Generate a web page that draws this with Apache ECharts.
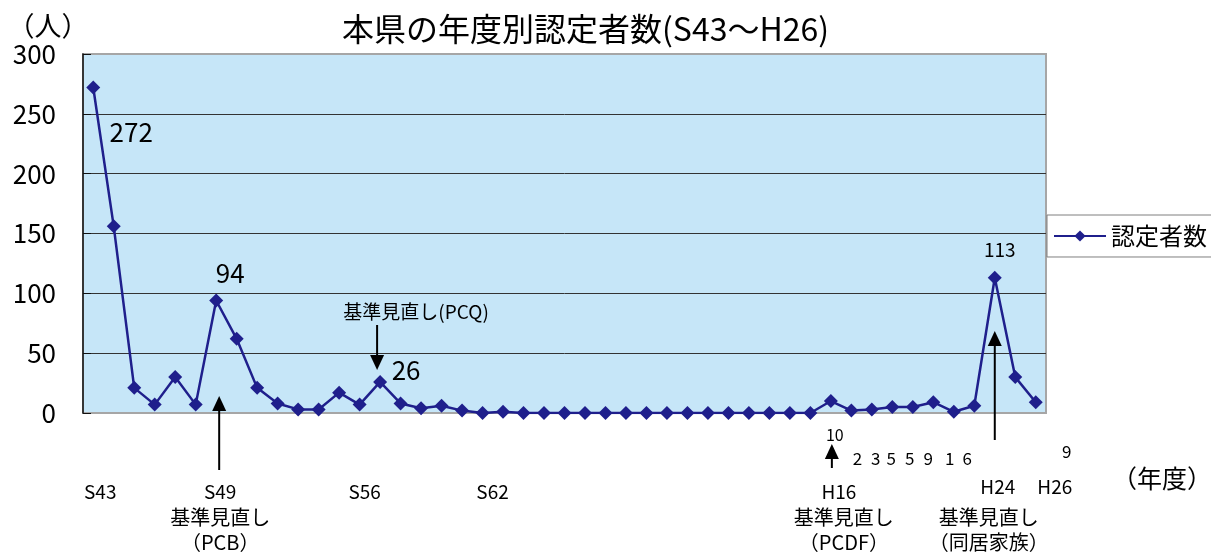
<!DOCTYPE html>
<html>
<head>
<meta charset="utf-8">
<script src="https://cdn.jsdelivr.net/npm/echarts@6/dist/echarts.min.js"></script>
<style>
  html, body { margin: 0; padding: 0; background: #fff; }
  #chart { width: 1211px; height: 554px; }
</style>
</head>
<body>
<div id="chart"></div>
<script>
const years = [
  'S43', 'S44', 'S45', 'S46', 'S47', 'S48', 'S49', 'S50', 'S51', 'S52', 'S53',
  'S54', 'S55', 'S56', 'S57', 'S58', 'S59', 'S60', 'S61', 'S62', 'S63',
  'H1', 'H2', 'H3', 'H4', 'H5', 'H6', 'H7', 'H8', 'H9', 'H10', 'H11', 'H12', 'H13',
  'H14', 'H15', 'H16', 'H17', 'H18', 'H19', 'H20', 'H21', 'H22', 'H23', 'H24', 'H25', 'H26',
]
const counts = [
  272, 156, 21, 7, 30, 7, 94, 62, 21, 8, 3,
  3, 17, 7, 26, 8, 4, 6, 2, 0, 1,
  0, 0, 0, 0, 0, 0, 0, 0, 0, 0, 0, 0, 0,
  0, 0, 10, 2, 3, 5, 5, 9, 1, 6, 113, 30, 9,
]
const tickLabels = ['S43', 'S49', 'S56', 'S62', 'H16', 'H24', 'H26']
const yTicks = [0, 50, 100, 150, 200, 250, 300]

const FONT = '"Noto Sans CJK JP", "Noto Sans", sans-serif'
const NAVY = '#1f1f8c'

// label tweaks: where excel had the labels dragged around
const tickShift = { S43: 7, S49: 4, S56: 5, S62: 10, H16: 8, H24: 3, H26: 19 }
const tickRaise = { H24: 5, H26: 5 }
const labelTweaks = {
  0: { dx: 38, dy: 45, size: 26 },
  6: { dx: 14, dy: -27, size: 26 },
  14: { dx: 26, dy: -12, size: 26 },
  44: { dx: 5, dy: -28, size: 19 },
  36: { dx: 4, below: 22, size: 16 },
  37: { dx: 6, below: 46, size: 17 },
  38: { dx: 4, below: 46, size: 17 },
  39: { dx: -1, below: 46, size: 17 },
  40: { dx: -3, below: 46, size: 17 },
  41: { dx: -5, below: 46, size: 17 },
  42: { dx: -4, below: 46, size: 17 },
  43: { dx: -7, below: 46, size: 17 },
  46: { dx: 31, below: 39, size: 17 },
}

const chart = echarts.init(document.getElementById('chart'))

const rich = {}
tickLabels.forEach((t) => {
  rich[t] = {
    fontSize: 19,
    fontFamily: FONT,
    color: '#000',
    padding: [5 - (tickRaise[t] || 0), 0, 0, 2 * (tickShift[t] || 0)],
  }
})

chart.setOption({
  animation: false,
  title: {
    text: '本県の年度別認定者数(S43〜H26)',
    left: 342,
    top: 13,
    padding: 0,
    textStyle: { fontSize: 32, fontWeight: 'normal', fontFamily: FONT, color: '#000' },
  },
  legend: {
    left: 1047,
    top: 215,
    itemWidth: 52,
    itemHeight: 14,
    padding: [9, 30, 9, 6],
    borderColor: '#7f7f7f',
    borderWidth: 1,
    backgroundColor: '#fff',
    textStyle: { fontSize: 24, fontFamily: FONT, color: '#000' },
  },
  grid: {
    left: 83,
    right: 165,
    top: 54,
    bottom: 141,
    show: true,
    backgroundColor: '#c6e6f8',
    borderColor: '#a6a6a6',
    borderWidth: 2,
  },
  xAxis: {
    type: 'category',
    data: years,
    boundaryGap: true,
    axisLine: { show: false },
    axisTick: { show: false },
    axisLabel: {
      margin: 64,
      interval: (i, v) => tickLabels.includes(v),
      formatter: (v) => `{${v}|${v}}`,
      rich,
    },
  },
  yAxis: {
    type: 'value',
    min: yTicks[0],
    max: yTicks[yTicks.length - 1],
    interval: 50,
    axisLine: { show: true, lineStyle: { color: '#111', width: 1.5 } },
    axisTick: { show: true, inside: true, length: 8, lineStyle: { color: '#111' } },
    axisLabel: { margin: 27, fontSize: 26, fontFamily: FONT, color: '#000' },
    splitLine: { showMinLine: false, showMaxLine: false, lineStyle: { color: '#333', width: 1 } },
  },
  series: [
    {
      name: '認定者数',
      type: 'line',
      data: counts,
      symbol: 'diamond',
      symbolSize: 14,
      showAllSymbol: true,
      lineStyle: { color: NAVY, width: 2.5 },
      itemStyle: { color: NAVY },
      label: { show: false },
    },
  ],
})

function px(i, v) {
  return chart.convertToPixel({ xAxisIndex: 0, yAxisIndex: 0 }, [i, v])
}

function labelFor(i) {
  const t = labelTweaks[i]
  if (!t) return { show: false }
  let dy = t.dy
  if (t.below != null) {
    dy = px(i, 0)[1] + t.below - px(i, counts[i])[1]
  }
  return {
    show: true,
    position: 'inside',
    offset: [t.dx, dy],
    fontSize: t.size,
    fontFamily: FONT,
    color: '#000',
    formatter: String(counts[i]),
  }
}

function text(x, y, str, size, extra) {
  return {
    type: 'text',
    x,
    y,
    style: Object.assign(
      { text: str, fill: '#000', fontSize: size, fontFamily: FONT, align: 'center', verticalAlign: 'middle' },
      extra || {},
    ),
  }
}

function arrow(i, dx, tipDy, baseDy) {
  const x = px(i, 0)[0] + dx
  const y0 = px(i, 0)[1]
  const tip = y0 + tipDy
  const base = y0 + baseDy
  const dir = base > tip ? 1 : -1
  return [
    { type: 'line', shape: { x1: x, y1: base, x2: x, y2: tip + dir * 10 }, style: { stroke: '#000', lineWidth: 2 } },
    {
      type: 'polygon',
      shape: { points: [[x, tip], [x - 7, tip + dir * 15], [x + 7, tip + dir * 15]] },
      style: { fill: '#000' },
    },
  ]
}

function note(i, dx, str) {
  const [x, y0] = px(i, 0)
  return text(x + dx, y0 + 117, str, 20, { lineHeight: 25 })
}

const y0 = px(0, 0)[1]
chart.setOption({
  series: [{ data: counts.map((v, i) => ({ value: v, label: labelFor(i) })) }],
  graphic: [
    text(48, 26, '（人）', 27),
    text(1162, 478, '（年度）', 25),
    text(px(14, 0)[0] + 36, y0 - 101, '基準見直し(PCQ)', 19),
    note(6, 4, '基準見直し\n（PCB）'),
    note(36, 13, '基準見直し\n（PCDF）'),
    note(44, -6, '基準見直し\n（同居家族）'),
    ...arrow(6, 3, -17, 57),
    ...arrow(14, -3, -43, -88),
    ...arrow(36, 1, 31, 55),
    ...arrow(44, 0, -82, 27),
  ],
})
</script>
</body>
</html>
